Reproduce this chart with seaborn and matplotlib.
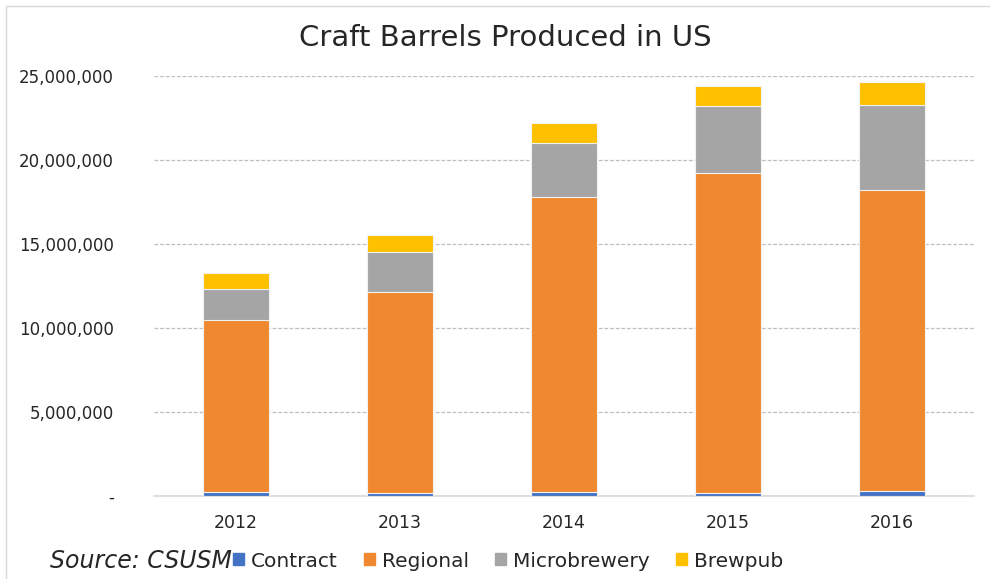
import numpy as np
import pandas as pd
import seaborn as sns
import matplotlib.pyplot as plt
from matplotlib.patches import Rectangle
from matplotlib.ticker import FuncFormatter

# Data (barrels)
years = ['2012', '2013', '2014', '2015', '2016']
contract = [250000, 200000, 250000, 200000, 300000]
regional = [10230000, 11940000, 17550000, 19030000, 17900000]
microbrewery = [1840000, 2380000, 3200000, 3970000, 5070000]
brewpub = [950000, 1020000, 1200000, 1200000, 1370000]

series = ['Contract', 'Regional', 'Microbrewery', 'Brewpub']
colors = ['#4472C4', '#F0882F', '#A5A5A5', '#FFC000']

df = pd.DataFrame({'year': years, 'Contract': contract, 'Regional': regional,
                   'Microbrewery': microbrewery, 'Brewpub': brewpub})
# cumulative totals so bars can be drawn on top of each other
cum = df[series].cumsum(axis=1)

sns.set_style('white')
plt.rcParams['font.family'] = ['DejaVu Sans']

fig = plt.figure(figsize=(9.9, 5.79), dpi=100)
ax = fig.add_axes([0.1556, 0.1434, 0.8282, 0.7253])

# draw the tallest (cumulative) first, then the lower stacks over it
for name, col in zip(series[::-1], colors[::-1]):
    sns.barplot(x=df['year'], y=cum[name], color=col, width=0.4, saturation=1,
                edgecolor='#f2f2f2', linewidth=0.8, ax=ax, zorder=3)

ax.set_ylim(0, 25000000)
ax.set_xlim(-0.5, 4.5)
ax.set_yticks(np.arange(0, 25000001, 5000000))
ax.yaxis.set_major_formatter(FuncFormatter(lambda v, p: '-' if v == 0 else f'{int(v):,}'))
ax.grid(axis='y', color='#bfbfbf', linestyle=(0, (3, 1.5)), linewidth=0.9, zorder=0)
ax.set_axisbelow(True)
ax.set_xlabel('')
ax.set_ylabel('')
for s in ['left', 'right', 'top']:
    ax.spines[s].set_visible(False)
ax.spines['bottom'].set_color('#d9d9d9')
ax.spines['bottom'].set_linewidth(1.2)
ax.tick_params(axis='both', length=0, labelsize=12, colors='#262626')
ax.tick_params(axis='x', pad=13, labelsize=12.5)
ax.tick_params(axis='y', pad=29)

fig.text(0.51, 0.935, 'Craft Barrels Produced in US', ha='center', va='center',
         fontsize=21, color='#262626')

# chart frame
fig.patches.append(Rectangle((6 / 990, -0.01), 1.0, 1 - 6 / 579 + 0.01,
                             transform=fig.transFigure, fill=False,
                             edgecolor='#d9d9d9', linewidth=1.0))

handles = [Rectangle((0, 0), 1, 1, color=c) for c in colors]
fig.legend(handles, series, loc='center', bbox_to_anchor=(0.513, 0.031), ncol=4,
           frameon=False, fontsize=14.5, handlelength=0.55, handleheight=0.55,
           handletextpad=0.35, columnspacing=1.3, labelcolor='#262626')

fig.text(0.05, 0.031, 'Source: CSUSM', fontsize=17, style='italic',
         va='center', ha='left', color='#262626')

fig.savefig('out.png', dpi=100)
